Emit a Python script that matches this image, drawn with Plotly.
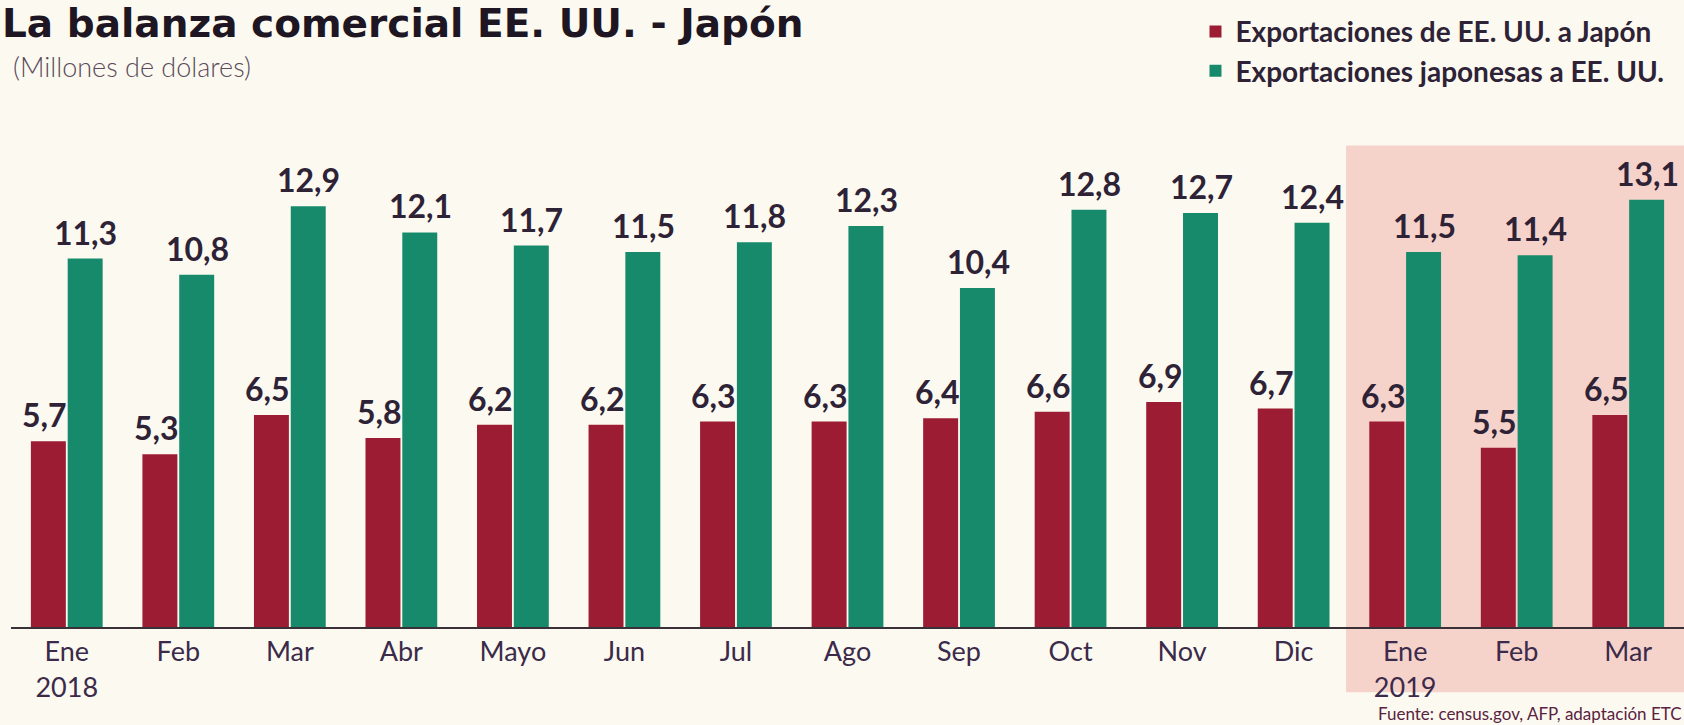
import plotly.graph_objects as go

months = ["Ene<br>2018", "Feb", "Mar", "Abr", "Mayo", "Jun", "Jul", "Ago", "Sep",
          "Oct", "Nov", "Dic", "Ene<br>2019", "Feb", "Mar"]
us_to_japan = [5.7, 5.3, 6.5, 5.8, 6.2, 6.2, 6.3, 6.3, 6.4, 6.6, 6.9, 6.7, 6.3, 5.5, 6.5]
japan_to_us = [11.3, 10.8, 12.9, 12.1, 11.7, 11.5, 11.8, 12.3, 10.4, 12.8, 12.7, 12.4, 11.5, 11.4, 13.1]
series_names = ["Exportaciones de EE. UU. a Japón", "Exportaciones japonesas a EE. UU."]

RED = "#9c1d33"
GREEN = "#178a6b"
BG = "#fcfaf0"
TXT = "#2e2236"
FONT = "Lato"

xs = list(range(len(months)))

def fmt(v):
    return f"{v:.1f}".replace(".", ",")

fig = go.Figure()
for name, vals, col, grp, shift in [(series_names[0], us_to_japan, RED, "a", -22),
                                    (series_names[1], japan_to_us, GREEN, "b", 19)]:
    fig.add_trace(go.Bar(
        x=xs, y=vals, name=name, legendgroup=grp,
        marker=dict(color=col, line=dict(width=0)),
        hoverinfo="skip",
    ))
    for xi, v in zip(xs, vals):
        fig.add_annotation(x=xi, y=v, xref="x", yref="y", xshift=shift, yshift=5,
                           xanchor="center", yanchor="bottom", showarrow=False,
                           text=fmt(v),
                           font=dict(family=FONT, size=32, color=TXT, weight="bold"))

# 2019 highlight
fig.add_shape(type="rect", xref="x", yref="paper", x0=11.47, x1=15, y0=-0.136, y1=1.005,
              fillcolor="#f6d3ca", line=dict(width=0), layer="below")

fig.add_annotation(xref="paper", yref="paper", x=-0.0066, y=1.259, xanchor="left", yanchor="middle",
                   text="La balanza comercial EE. UU. - Japón", showarrow=False,
                   font=dict(family="DejaVu Sans", size=39, color="#1e1622", weight="bold"))
fig.add_annotation(xref="paper", yref="paper", x=0.0, y=1.17, xanchor="left", yanchor="middle",
                   text="(Millones de dólares)", showarrow=False,
                   font=dict(family=FONT, size=27, color="#5b4a5c", weight=300))
fig.add_annotation(xref="paper", yref="paper", x=1.0, y=-0.18, xanchor="right", yanchor="middle",
                   text="Fuente: census.gov, AFP, adaptación ETC", showarrow=False,
                   font=dict(family=FONT, size=17, color="#5a2240"))

fig.update_layout(
    width=1684, height=725,
    margin=dict(l=11, r=0, t=148, b=98),
    paper_bgcolor=BG, plot_bgcolor="rgba(0,0,0,0)",
    barmode="group", bargap=0.34, bargroupgap=0.05,
    showlegend=True,
    legend=dict(x=0.708, y=1.295, xanchor="left", yanchor="top",
                font=dict(family=FONT, size=28, color=TXT, weight="bold"),
                bgcolor="rgba(0,0,0,0)", tracegroupgap=8, itemsizing="constant",
                traceorder="normal"),
    xaxis=dict(tickmode="array", tickvals=xs, ticktext=months, range=[-0.5, 14.5],
               showgrid=False, zeroline=False, showline=True, linecolor="#3a3038", linewidth=2,
               ticks="", tickfont=dict(family=FONT, size=27, color="#3b2a4a"), ticklabelstandoff=0),
    yaxis=dict(range=[0, 14.69], visible=False, showgrid=False, zeroline=False),
)

fig.write_html("out.html")
